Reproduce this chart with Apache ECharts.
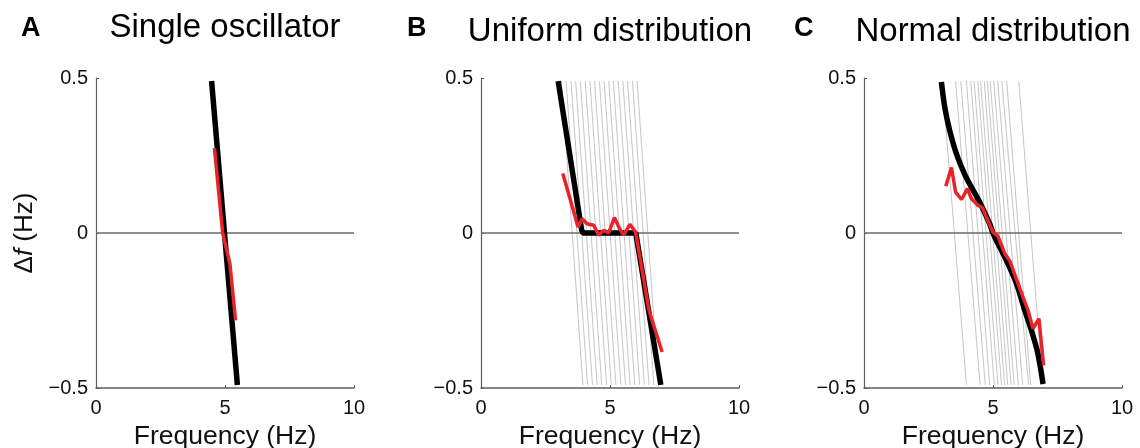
<!DOCTYPE html>
<html>
<head>
<meta charset="utf-8">
<script src="https://cdn.jsdelivr.net/npm/echarts@6/dist/echarts.min.js"></script>
<style>
html, body { margin: 0; padding: 0; background: #fff; }
#chart { width: 1140px; height: 448px; }
</style>
</head>
<body>
<div id="chart"></div>
<script>
// panel texts
var panelLetters = ['A', 'B', 'C'];
var panelTitles = ['Single oscillator', 'Uniform distribution', 'Normal distribution'];
var xTickValues = [0, 5, 10];
var yTickValues = [-0.5, 0, 0.5];
var yTickLabels = ['\u22120.5', '0', '0.5'];

// A: single oscillator
var blackAx = [4.48, 5.48];
var blackAy = [0.49, -0.49];
var redAx = [4.59, 4.91, 5.19, 5.41];
var redAy = [0.274, 0, -0.099, -0.282];

// B: uniform distribution
var blackBx = [2.99, 3.9, 3.95, 6.0, 6.97];
var blackBy = [0.49, 0.01, 0, 0, -0.49];
var redBx = [3.17, 3.47, 3.76, 3.92, 4.11, 4.37, 4.56, 4.76, 4.95, 5.17, 5.37, 5.53, 5.77, 5.99, 6.18, 6.51, 7.02];
var redBy = [0.192, 0.105, 0.019, 0.046, 0.03, 0.025, -0.007, 0.009, 0, 0.05, 0.014, -0.007, 0.028, 0.003, -0.088, -0.249, -0.384];
var grayTopB = [3.12, 3.30, 3.49, 3.67, 3.85, 4.04, 4.22, 4.40, 4.59, 4.77, 4.95, 5.13, 5.32, 5.50, 5.68, 5.87, 6.05];
var grayBottomB = [3.95, 4.13, 4.32, 4.50, 4.68, 4.87, 5.05, 5.23, 5.42, 5.60, 5.78, 5.96, 6.15, 6.33, 6.51, 6.70, 6.88];

// C: normal distribution
var blackCx = [3.0, 3.13, 3.32, 3.58, 3.9, 4.16, 4.48, 4.87, 5.0, 5.13, 5.52, 5.91, 6.23, 6.49, 6.74, 6.94];
var blackCy = [0.487, 0.406, 0.331, 0.256, 0.19, 0.148, 0.1, 0.03, 0, -0.024, -0.088, -0.163, -0.249, -0.314, -0.389, -0.487];
var redCx = [3.17, 3.39, 3.55, 3.78, 4.01, 4.16, 4.42, 4.59, 4.8, 5.0, 5.19, 5.46, 5.65, 6.16, 6.36, 6.55, 6.78, 6.96];
var redCy = [0.151, 0.211, 0.132, 0.108, 0.143, 0.111, 0.089, 0.082, 0.04, 0.003, -0.01, -0.067, -0.09, -0.206, -0.25, -0.308, -0.276, -0.427];
var grayTopC = [3.03, 3.55, 3.75, 3.97, 4.14, 4.27, 4.41, 4.52, 4.66, 4.78, 4.89, 5.03, 5.18, 5.34, 5.53, 6.0];
var grayBottomC = [3.97, 4.50, 4.70, 4.87, 5.05, 5.19, 5.33, 5.45, 5.57, 5.70, 5.82, 5.98, 6.15, 6.38, 6.46, 6.93];
var grayYTop = 0.49;
var grayYBottom = -0.49;

var FONT = '"Liberation Sans", Arial, Helvetica, sans-serif';
var gridLefts = [96, 481, 864];
var plotW = 258;
var axisColor = '#5e5e5e';

function zip(xs, ys) {
    return xs.map(function (x, i) { return [x, ys[i]]; });
}

var myChart = echarts.init(document.getElementById('chart'), null, { renderer: 'canvas' });

var grids = [], xAxes = [], yAxes = [], series = [], graphics = [];
var blacks = [zip(blackAx, blackAy), zip(blackBx, blackBy), zip(blackCx, blackCy)];
var reds = [zip(redAx, redAy), zip(redBx, redBy), zip(redCx, redCy)];
var grays = [[[], []], [grayTopB, grayBottomB], [grayTopC, grayBottomC]];

for (var i = 0; i < 3; i++) {
    grids.push({ left: gridLefts[i], top: 78, width: plotW, height: 310, containLabel: false, outerBoundsMode: 'none' });
    xAxes.push({
        gridIndex: i, type: 'value', min: 0, max: 10, interval: 5,
        axisLine: { show: true, onZero: false, lineStyle: { color: axisColor, width: 1.5 } },
        axisTick: { show: true, inside: true, length: 3, lineStyle: { color: axisColor, width: 1 } },
        axisLabel: {
            margin: 10, fontSize: 20, color: '#111', fontFamily: FONT,
            formatter: function (v) { return xTickValues.indexOf(v) >= 0 ? String(v) : ''; }
        },
        splitLine: { show: false },
        name: 'Frequency (Hz)', nameLocation: 'middle', nameGap: 33,
        nameTextStyle: { fontSize: 26.5, color: '#111', fontFamily: FONT }
    });
    var yAx = {
        gridIndex: i, type: 'value', min: -0.5, max: 0.5, interval: 0.5,
        axisLine: { show: true, onZero: false, lineStyle: { color: axisColor, width: 1.2 } },
        axisTick: { show: true, inside: true, length: 3, lineStyle: { color: axisColor, width: 1 } },
        axisLabel: {
            margin: 8, fontSize: 20, color: '#111', fontFamily: FONT,
            formatter: function (v) {
                var k = yTickValues.indexOf(Math.round(v * 10) / 10);
                return k >= 0 ? yTickLabels[k] : '';
            }
        },
        splitLine: { show: false }
    };
    if (i === 0) {
        yAx.name = '{a|\u0394}{b|f}{a| (Hz)}';
        yAx.nameLocation = 'middle';
        yAx.nameGap = 58;
        yAx.nameTextStyle = {
            color: '#111',
            rich: {
                a: { fontSize: 26, fontFamily: FONT, color: '#111' },
                b: { fontSize: 26, fontFamily: FONT, fontStyle: 'italic', color: '#111' }
            }
        };
    }
    yAxes.push(yAx);

    // thin grey lines for the individual oscillators
    var tops = grays[i][0], bots = grays[i][1];
    for (var g = 0; g < tops.length; g++) {
        series.push({
            type: 'line', xAxisIndex: i, yAxisIndex: i, symbol: 'none', silent: true,
            data: [[tops[g], grayYTop], [bots[g], grayYBottom]],
            lineStyle: { color: '#c6c6c6', width: 1 }, z: 1
        });
    }
    // zero line
    series.push({
        type: 'line', xAxisIndex: i, yAxisIndex: i, symbol: 'none', silent: true,
        data: [[xTickValues[0], 0], [xTickValues[2], 0]],
        lineStyle: { color: '#6a6a6a', width: 1.5 }, z: 2
    });
    series.push({
        type: 'line', xAxisIndex: i, yAxisIndex: i, symbol: 'none',
        data: blacks[i], smooth: i === 2 ? 0.3 : false,
        lineStyle: { color: '#000', width: 5.5 }, z: 3
    });
    series.push({
        type: 'line', xAxisIndex: i, yAxisIndex: i, symbol: 'none',
        data: reds[i],
        lineStyle: { color: '#e8232a', width: 3.5 }, z: 4
    });

    var cx = gridLefts[i] + plotW / 2;
    graphics.push({
        type: 'text', x: cx, y: i === 0 ? 28 : 32,
        style: { text: panelTitles[i], font: '33px ' + FONT, fill: '#000', align: 'center', verticalAlign: 'middle', textAlign: 'center', textVerticalAlign: 'middle' }
    });
}
var letterX = [21, 407, 794];
for (var j = 0; j < 3; j++) {
    graphics.push({
        type: 'text', x: letterX[j], y: 29,
        style: { text: panelLetters[j], font: 'bold 27px ' + FONT, fill: '#000', align: 'left', verticalAlign: 'middle', textAlign: 'left', textVerticalAlign: 'middle' }
    });
}

var option = {
    animation: false,
    backgroundColor: '#fff',
    grid: grids,
    xAxis: xAxes,
    yAxis: yAxes,
    series: series,
    graphic: graphics
};
myChart.setOption(option);
</script>
</body>
</html>
